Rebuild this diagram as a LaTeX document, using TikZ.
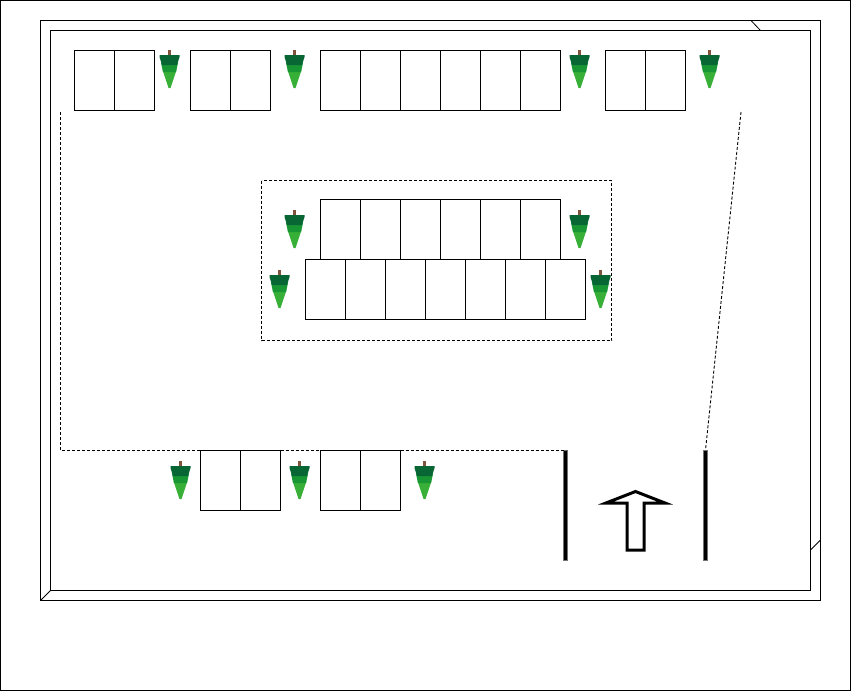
\documentclass[tikz,border=0pt]{standalone}
\usepackage{xcolor}
\usetikzlibrary{positioning, calc}
\definecolor{trunkbrown}{RGB}{128,84,60}
\definecolor{treedark}{RGB}{8,102,52}
\definecolor{treemid}{RGB}{24,150,52}
\definecolor{treelight}{RGB}{56,176,56}
\tikzset{
  pics/tree/.style={code={
    \fill[trunkbrown] (-1.2,0) rectangle (1.2,6);
    \fill[treelight] (-7,20) -- (7,20) -- (1,38) -- (-1,38) -- cycle;
    \fill[treemid] (-8.5,13) -- (8.5,13) -- (6.5,22) -- (-6.5,22) -- cycle;
    \fill[treedark] (-10,5) -- (10,5) -- (10,7) -- (7.5,15) -- (-7.5,15) -- (-10,7) -- cycle;
  }}
}
\begin{document}
\begin{tikzpicture}[x=1pt, y=-1pt, line width=0.8pt]
  \tikzstyle{stall}=[rectangle, draw, outer sep=0pt, inner sep=0pt, minimum width=40pt, minimum height=60pt]
  \tikzstyle{gate}=[rectangle, draw=black!55, line width=0.5pt, fill=black, inner sep=0pt, outer sep=0pt, minimum width=4pt, minimum height=110pt, anchor=north]
  \tikzstyle{lot}=[line width=0.9pt, dash pattern=on 3pt off 2pt]
  \useasboundingbox (0,0) rectangle (851,691);
  % frames
  \draw (0.5,0.5) rectangle (850.5,690.5);
  \draw (40.5,20.5) rectangle (820.5,600.5);
  \draw (50.5,30.5) rectangle (810.5,590.5);
  \draw (751,20.5) -- (760.5,30.5);
  \draw (40.5,600.5) -- (50.5,590.5);
  \draw (810.5,550) -- (820.5,540);
  % top row
  \node[stall, anchor=north west] (a1) at (74.5,50.5) {};
  \node[stall, right=0pt of a1] (a2) {};
  \node[stall, anchor=north west] (b1) at (190.5,50.5) {};
  \node[stall, right=0pt of b1] (b2) {};
  \node[stall, anchor=north west] (c1) at (320.5,50.5) {};
  \node[stall, right=0pt of c1] (c2) {};
  \node[stall, right=0pt of c2] (c3) {};
  \node[stall, right=0pt of c3] (c4) {};
  \node[stall, right=0pt of c4] (c5) {};
  \node[stall, right=0pt of c5] (c6) {};
  \node[stall, anchor=north west] (d1) at (605.5,50.5) {};
  \node[stall, right=0pt of d1] (d2) {};
  % middle island
  \node[stall, anchor=north west] (e1) at (320.5,199.5) {};
  \node[stall, right=0pt of e1] (e2) {};
  \node[stall, right=0pt of e2] (e3) {};
  \node[stall, right=0pt of e3] (e4) {};
  \node[stall, right=0pt of e4] (e5) {};
  \node[stall, right=0pt of e5] (e6) {};
  \node[stall, anchor=north west] (f1) at (305.5,259.5) {};
  \node[stall, right=0pt of f1] (f2) {};
  \node[stall, right=0pt of f2] (f3) {};
  \node[stall, right=0pt of f3] (f4) {};
  \node[stall, right=0pt of f4] (f5) {};
  \node[stall, right=0pt of f5] (f6) {};
  \node[stall, right=0pt of f6] (f7) {};
  \draw[lot] (261.5,180.5) rectangle (611.5,340.5);
  % bottom row
  \node[stall, anchor=north west] (g1) at (200.5,450.5) {};
  \node[stall, right=0pt of g1] (g2) {};
  \node[stall, anchor=north west] (h1) at (320.5,450.5) {};
  \node[stall, right=0pt of h1] (h2) {};
  % entrance
  \node[gate] (gateL) at (565.5,450) {};
  \node[gate] (gateR) at (705.5,450) {};
  \draw[line width=3pt, miter limit=10] (635.5,491.5) -- (665,503) -- (644,503) -- (644,550) -- (627,550) -- (627,503) -- (606,503) -- cycle;
  % boundary
  \coordinate (lotL) at (60.5,112);
  \coordinate (lotR) at (741,112);
  \draw[lot] (lotL) |- (g1.north west);
  \draw[lot] (g2.north east) -- (h1.north west);
  \draw[lot] (h2.north east) -- (h2.north east -| gateL.north);
  \draw[lot] (lotR) -- (gateR.north);
  % trees
  \pic at (169.5,50) {tree};
  \pic at (294.5,50) {tree};
  \pic at (579.5,50) {tree};
  \pic at (709.5,50) {tree};
  \pic at (294.5,210) {tree};
  \pic at (579.5,210) {tree};
  \pic at (279.5,270) {tree};
  \pic at (600.5,270) {tree};
  \pic at (180.5,461) {tree};
  \pic at (299.5,461) {tree};
  \pic at (424.5,461) {tree};
\end{tikzpicture}
\end{document}
